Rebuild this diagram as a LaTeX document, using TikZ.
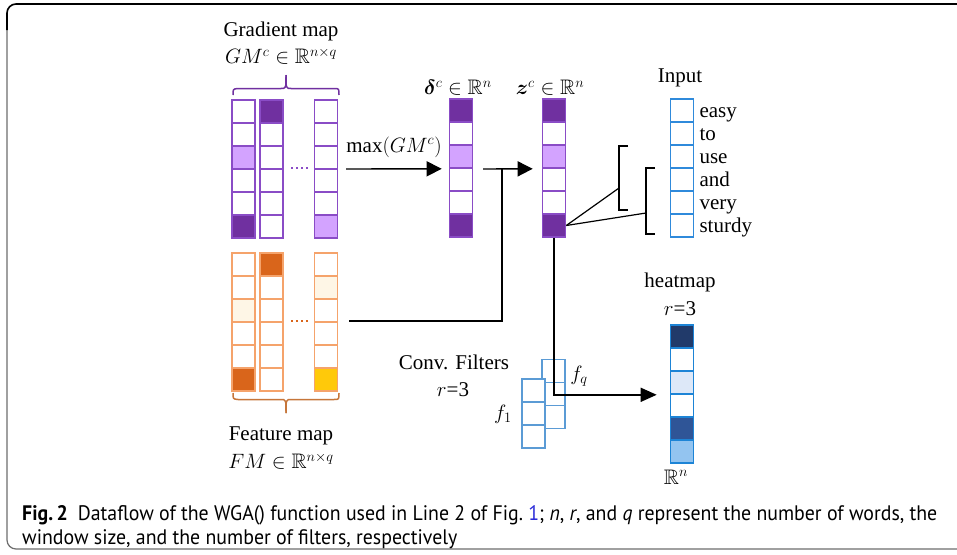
\documentclass[tikz,border=0pt]{standalone}
\usepackage{amsmath,amssymb,bm}
\usepackage{fontspec}
\setmainfont{Liberation Serif}
\newfontfamily\capfont[FakeStretch=0.945]{PT Sans}
\usetikzlibrary{arrows.meta}

\definecolor{pdark}{HTML}{7030A0}
\definecolor{plite}{HTML}{D3A3FF}
\definecolor{pbord}{HTML}{8A4CC6}
\definecolor{odark}{HTML}{D9651B}
\definecolor{ocream}{HTML}{FEF6E6}
\definecolor{oyell}{HTML}{FFC90A}
\definecolor{obord}{HTML}{F5A36B}
\definecolor{obrace}{HTML}{C6763A}
\definecolor{inblue}{HTML}{2F8ADB}
\definecolor{fblue}{HTML}{5B9BD5}
\definecolor{hbord}{HTML}{1D84D6}
\definecolor{hnavy}{HTML}{213A6A}
\definecolor{hpale}{HTML}{DDE8F8}
\definecolor{hmid}{HTML}{2F5597}
\definecolor{hlight}{HTML}{93C4F0}
\definecolor{linkblue}{HTML}{2B2BD9}
\definecolor{framegray}{HTML}{6E6E6E}

\tikzset{
  cell/.style={draw, minimum width=23pt, minimum height=23pt, inner sep=0pt, line width=1.6pt},
  lbl/.style={font=\fontsize{21}{25}\selectfont, inner sep=0pt},
  word/.style={font=\fontsize{21}{25}\selectfont, inner sep=0pt, anchor=base west},
  wire/.style={line width=1.4pt, black},
  flow/.style={wire, -{Triangle[length=15pt,width=15pt]}},
  bracket/.style={line width=1.4pt, black},
  dots/.style={line width=2.4pt, dash pattern=on 2.4pt off 2.6pt},
  captext/.style={font=\capfont\fontsize{21}{25}\selectfont, inner sep=0pt, anchor=base west},
}

\begin{document}
\begin{tikzpicture}[x=1pt,y=-1pt]
  % canvas
  \fill[white] (0,0) rectangle (957,554);
  \useasboundingbox (0,0) rectangle (957,554);

  % frame of the figure box
  \draw[framegray, line width=1.2pt, rounded corners=9pt] (7,30) -- (7,549) -- (957,549);
  \draw[black, line width=1.6pt, rounded corners=9pt] (957,4) -- (7,4) -- (7,30);

  % ---------------- gradient map ----------------
  \foreach \f [count=\i] in {white,white,plite,white,white,pdark}
    \node[cell, draw=pbord, fill=\f] (ga\i) at (243.5, 88.5+23*\i) {};
  \foreach \f [count=\i] in {pdark,white,white,white,white,white}
    \node[cell, draw=pbord, fill=\f] (gb\i) at (271.5, 88.5+23*\i) {};
  \foreach \f [count=\i] in {white,white,white,white,white,plite}
    \node[cell, draw=pbord, fill=\f] (gq\i) at (326, 88.5+23*\i) {};
  \draw[pbord, dots] (291,168) -- (310,168);

  \draw[pdark, line width=1.5pt] (233,95) .. controls (233,89) .. (238,88.5) -- (281,88.5) .. controls (286,88.5) .. (286,75);
  \draw[pdark, line width=1.5pt] (286,75) .. controls (286,88.5) .. (291,88.5) -- (334,88.5) .. controls (339,88.5) .. (339,95);

  \node[lbl] (gmtitle) at (281,31) {Gradient map};
  \node[lbl] (gmset) at (281,56) {$GM^c \in \mathbb{R}^{n\times q}$};

  % ---------------- feature map ----------------
  \foreach \f [count=\i] in {white,white,ocream,white,white,odark}
    \node[cell, draw=obord, fill=\f] (fa\i) at (243.5, 241.5+23*\i) {};
  \foreach \f [count=\i] in {odark,white,white,white,white,white}
    \node[cell, draw=obord, fill=\f] (fb\i) at (271.5, 241.5+23*\i) {};
  \foreach \f [count=\i] in {white,ocream,white,white,white,oyell}
    \node[cell, draw=obord, fill=\f] (fq\i) at (326, 241.5+23*\i) {};
  \draw[odark, dots] (291,321) -- (310,321);

  \draw[obrace, line width=1.5pt] (233,393) .. controls (233,399) .. (238,399.5) -- (281,399.5) .. controls (286,399.5) .. (286,413);
  \draw[obrace, line width=1.5pt] (286,413) .. controls (286,399.5) .. (291,399.5) -- (334,399.5) .. controls (339,399.5) .. (339,393);

  \node[lbl] (fmtitle) at (281,436) {Feature map};
  \node[lbl] (fmset) at (281,461) {$FM \in \mathbb{R}^{n\times q}$};

  % ---------------- delta and z columns ----------------
  \foreach \f [count=\i] in {pdark,white,plite,white,white,pdark}
    \node[cell, draw=pbord, fill=\f] (d\i) at (461, 87.5+23*\i) {};
  \foreach \f [count=\i] in {pdark,white,plite,white,white,pdark}
    \node[cell, draw=pbord, fill=\f] (z\i) at (554, 87.5+23*\i) {};

  \node[lbl] (dset) at (458,88) {$\bm{\delta}^c \in \mathbb{R}^n$};
  \node[lbl] (zset) at (550,88) {$\bm{z}^c \in \mathbb{R}^n$};

  \node[lbl] (maxlbl) at (394,147) {$\max(GM^c)$};
  \coordinate (maxin) at (346,169);
  \draw[flow] (maxin) -- ([xshift=-7pt]d3.south west);

  \coordinate (dout) at (483,169);
  \draw[flow] (dout) -- ([xshift=-9pt]z3.south west);

  \coordinate (fmout) at (349,321);
  \coordinate (merge) at (502,169);
  \draw[wire] (fmout) -| (merge);

  % ---------------- input sentence ----------------
  \foreach \w [count=\i] in {easy,to,use,and,very,sturdy} {
    \node[cell, draw=inblue, fill=white] (in\i) at (682, 87.5+23*\i) {};
    \node[word] (w\i) at ([xshift=5pt, yshift=-6.5pt]in\i.east) {\w};
  }
  \node[lbl] (intitle) at (680,78) {Input};

  % windows over the sentence
  \coordinate (bra) at (619,188);
  \coordinate (brb) at (646,213);
  \draw[bracket] (628,146) -- (619,146) -- (619,210) -- (628,210);
  \draw[bracket] (655,168) -- (646,168) -- (646,234) -- (655,234);
  \draw[wire, line width=1.2pt] (z6.east) -- (bra);
  \draw[wire, line width=1.2pt] (z6.east) -- (brb);

  % ---------------- convolution filters ----------------
  \foreach \i in {1,2,3}
    \node[cell, draw=fblue, fill=white] (fk\i) at (553.5, 348+23*\i) {};

  % ---------------- heatmap ----------------
  \foreach \f [count=\i] in {hnavy,white,hpale,white,hmid,hlight}
    \node[cell, draw=hbord, fill=\f] (h\i) at (682, 313.5+23*\i) {};
  \node[lbl] (htitle) at (680,282) {heatmap};
  \node[lbl] (hr) at (680,309) {$r$=3};
  \node[lbl] (hset) at (676,477) {$\mathbb{R}^n$};

  \draw[wire, -{Triangle[length=16pt,width=14pt]}] (z6.south) |- ([xshift=-13pt]h3.south west);

  \foreach \i in {1,2,3}
    \node[cell, draw=fblue, fill=white] (fo\i) at (533.5, 367.5+23*\i) {};

  \node[lbl] (convt) at (454,362) {Conv. Filters};
  \node[lbl] (convr) at (453,390) {$r$=3};
  \node[lbl] (fone) at (503,414) {$f_1$};
  \node[lbl] (fqq) at (579,376) {$f_q$};

  % ---------------- caption ----------------
  \node[captext] (cap1) at (22,520) {\textbf{Fig.\,2}\hspace{10pt}Dataflow of the WGA() function used in Line 2 of Fig.~{\color{linkblue}1}; \textit{n}, \textit{r}, and \textit{q} represent the number of words, the};
  \node[captext] (cap2) at (22,544) {window size, and the number of filters, respectively};
\end{tikzpicture}
\end{document}
